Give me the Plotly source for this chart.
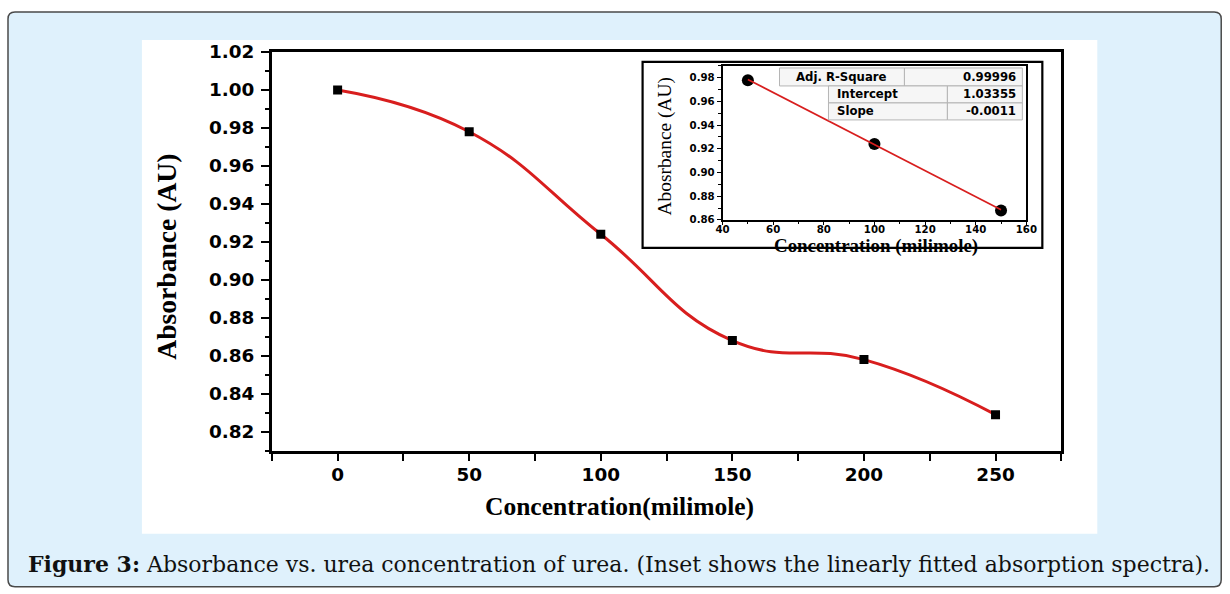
import plotly.graph_objects as go

# ---------------- data ----------------
conc = [0, 50, 100, 150, 200, 250]
absorb = [1.000, 0.978, 0.924, 0.868, 0.858, 0.829]

inset_conc = [50, 100, 150]
inset_abs = [0.978, 0.924, 0.868]
fit_x = [50, 150]
fit_y = [0.9786, 0.8686]

table_labels = ["Adj. R-Square", "Intercept", "Slope"]
table_values = ["0.99996", "1.03355", "-0.0011"]

main_xticks = [0, 50, 100, 150, 200, 250]
main_yticks = [0.82, 0.84, 0.86, 0.88, 0.90, 0.92, 0.94, 0.96, 0.98, 1.00, 1.02]
inset_xticks = [40, 60, 80, 100, 120, 140, 160]
inset_yticks = [0.86, 0.88, 0.90, 0.92, 0.94, 0.96, 0.98]

caption_bold = "Figure 3:"
caption_text = " Absorbance vs. urea concentration of urea. (Inset shows the linearly fitted absorption spectra)."

# ---------------- geometry helpers (target picture pixels -> paper) ----------------
W, H = 1230, 594
SX, SY, OX, OY = 0.986, 0.972, 7.0, 11.0
K = 1.0 / 0.98  # font compensation

def px(x):
    return ((x - OX) / SX) / W

def py(y):
    return 1 - ((y - OY) / SY) / H

def fs(s):
    return round(s * K, 1)

RED = "#d81e1e"
BG = "#dff1fc"
TICKFONT = dict(family="DejaVu Sans", size=fs(18), color="black", weight="bold")
SERIF = "Liberation Serif"

fig = go.Figure()

# main curve
fig.add_trace(go.Scatter(
    x=conc, y=absorb, mode="lines", line=dict(color=RED, width=3, shape="spline", smoothing=1.3),
    xaxis="x", yaxis="y", showlegend=False, hoverinfo="skip"))
fig.add_trace(go.Scatter(
    x=conc, y=absorb, mode="markers", marker=dict(symbol="square", size=9, color="black"),
    xaxis="x", yaxis="y", showlegend=False))

# inset
fig.add_trace(go.Scatter(
    x=inset_conc, y=inset_abs, mode="markers", marker=dict(symbol="circle", size=12, color="black"),
    xaxis="x2", yaxis="y2", showlegend=False))
fig.add_trace(go.Scatter(
    x=fit_x, y=fit_y, mode="lines", line=dict(color=RED, width=1.6),
    xaxis="x2", yaxis="y2", showlegend=False))

shapes = []
# outer rounded frame
x0, y0, x1, y1, r = 8, 12, 1222, 587, 7
path = (f"M {px(x0+r)},{py(y0)} L {px(x1-r)},{py(y0)} Q {px(x1)},{py(y0)} {px(x1)},{py(y0+r)} "
        f"L {px(x1)},{py(y1-r)} Q {px(x1)},{py(y1)} {px(x1-r)},{py(y1)} "
        f"L {px(x0+r)},{py(y1)} Q {px(x0)},{py(y1)} {px(x0)},{py(y1-r)} "
        f"L {px(x0)},{py(y0+r)} Q {px(x0)},{py(y0)} {px(x0+r)},{py(y0)} Z")
shapes.append(dict(type="path", path=path, xref="paper", yref="paper",
                   fillcolor=BG, line=dict(color="#4a4a4a", width=1.5), layer="below"))
# white image area
shapes.append(dict(type="rect", xref="paper", yref="paper", x0=px(142), x1=px(1098), y0=py(534), y1=py(40),
                   fillcolor="white", line=dict(width=0), layer="below"))
# inset outer box
shapes.append(dict(type="rect", xref="paper", yref="paper", x0=px(643), x1=px(1043), y0=py(248), y1=py(62),
                   fillcolor="white", line=dict(color="black", width=2.2), layer="below"))

# table cells
cells = [
    (780, 905, 68, 86), (905, 1023, 68, 86),
    (829, 948, 86, 103), (948, 1023, 86, 103),
    (829, 948, 103, 120), (948, 1023, 103, 120),
]
for (a, b, c, d) in cells:
    shapes.append(dict(type="rect", xref="paper", yref="paper", x0=px(a), x1=px(b), y0=py(d), y1=py(c),
                       fillcolor="rgba(246,246,246,1)", line=dict(color="#b5b5b5", width=1), layer="above"))

annotations = []
tf = dict(family="DejaVu Sans", size=fs(11.5), color="black", weight="bold")
annotations.append(dict(x=px(842), y=py(77), xref="paper", yref="paper", text=table_labels[0],
                        showarrow=False, font=tf, xanchor="center", yanchor="middle"))
annotations.append(dict(x=px(836), y=py(94.5), xref="paper", yref="paper", text=table_labels[1],
                        showarrow=False, font=tf, xanchor="left", yanchor="middle"))
annotations.append(dict(x=px(836), y=py(111.5), xref="paper", yref="paper", text=table_labels[2],
                        showarrow=False, font=tf, xanchor="left", yanchor="middle"))
for i, yy in enumerate([77, 94.5, 111.5]):
    annotations.append(dict(x=px(1019), y=py(yy), xref="paper", yref="paper", text=table_values[i],
                            showarrow=False, font=tf, xanchor="right", yanchor="middle"))

# axis titles
annotations.append(dict(x=px(167), y=py(257), xref="paper", yref="paper", text="Absorbance (AU)",
                        textangle=-90, showarrow=False,
                        font=dict(family=SERIF, size=fs(27), color="black", weight="bold"),
                        xanchor="center", yanchor="middle"))
annotations.append(dict(x=px(620), y=py(507), xref="paper", yref="paper", text="Concentration(milimole)",
                        showarrow=False, font=dict(family=SERIF, size=fs(25), color="black", weight="bold"),
                        xanchor="center", yanchor="middle"))
annotations.append(dict(x=px(665), y=py(147), xref="paper", yref="paper", text="Abosrbance (AU)",
                        textangle=-90, showarrow=False,
                        font=dict(family=SERIF, size=fs(19), color="black"),
                        xanchor="center", yanchor="middle"))
annotations.append(dict(x=px(877), y=py(233), xref="paper", yref="paper", text="Concentration (milimole)",
                        showarrow=False, font=dict(family=SERIF, size=fs(18.5), color="black", weight="bold"),
                        xanchor="center", yanchor="top"))
# caption
annotations.append(dict(x=px(26), y=py(564), xref="paper", yref="paper",
                        text=f"<b>{caption_bold}</b>{caption_text}", showarrow=False,
                        font=dict(family="DejaVu Serif", size=fs(21.6), color="#111"),
                        xanchor="left", yanchor="middle"))

axis_common = dict(showline=True, linecolor="black", mirror=True, showgrid=False, zeroline=False,
                   ticks="outside", tickcolor="black")

fig.update_layout(
    width=W, height=H, margin=dict(l=0, r=0, t=0, b=0),
    paper_bgcolor="white", plot_bgcolor="rgba(0,0,0,0)",
    shapes=shapes, annotations=annotations,
    xaxis=dict(**axis_common, domain=[px(272), px(1062)], range=[-25, 275],
               tickvals=main_xticks, linewidth=2.5, tickwidth=2, ticklen=8, ticklabelstandoff=-3,
               minor=dict(dtick=25, tick0=0, ticks="outside", ticklen=8, tickwidth=2, tickcolor="black"),
               tickfont=TICKFONT, anchor="y"),
    yaxis=dict(**axis_common, domain=[py(451), py(52)], range=[0.81, 1.02],
               tickvals=main_yticks, ticktext=[f"{v:.2f}" for v in main_yticks],
               linewidth=2.5, tickwidth=2, ticklen=8, ticklabelstandoff=3,
               minor=dict(dtick=0.01, tick0=0.81, ticks="outside", ticklen=4, tickwidth=2, tickcolor="black"),
               tickfont=TICKFONT, anchor="x"),
    xaxis2=dict(**axis_common, domain=[px(723), px(1027)], range=[40, 160],
                tickvals=inset_xticks, linewidth=1.6, tickwidth=1.2, ticklen=3, ticklabelstandoff=-4,
                minor=dict(dtick=10, tick0=40, ticks="outside", ticklen=2, tickwidth=1.2, tickcolor="black"),
                tickfont=dict(family="DejaVu Sans", size=fs(10), color="black", weight="bold"), anchor="y2"),
    yaxis2=dict(**axis_common, domain=[py(220), py(66)], range=[0.86, 0.99],
                tickvals=inset_yticks, ticktext=[f"{v:.2f}" for v in inset_yticks],
                linewidth=1.6, tickwidth=1.2, ticklen=4,
                minor=dict(dtick=0.01, tick0=0.86, ticks="outside", ticklen=2.5, tickwidth=1.2, tickcolor="black"),
                tickfont=dict(family="DejaVu Sans", size=fs(10), color="black", weight="bold"), anchor="x2"),
)

fig.write_html("out.html", config={"displayModeBar": False},
               post_script="document.body.style.margin='0';document.body.style.overflow='hidden';")
